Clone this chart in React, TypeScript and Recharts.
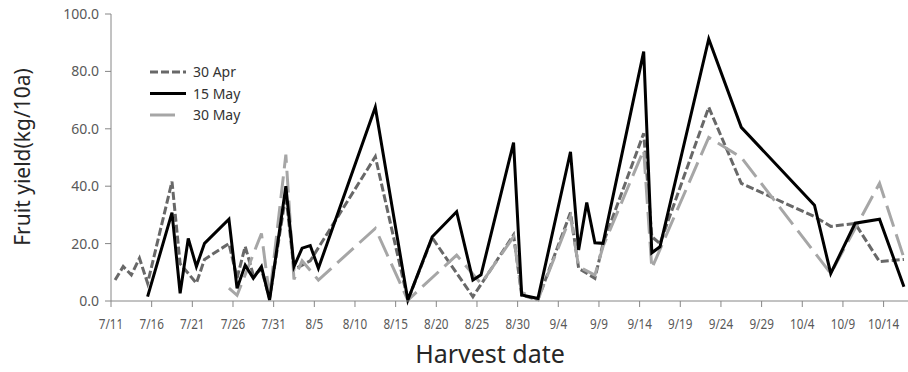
import { LineChart, Line, XAxis, YAxis, Label } from "recharts";

// harvest dates (month/day) and fruit yield (kg/10a) per planting date
const apr30Dates = [
  "7/11", "7/12", "7/13", "7/14", "7/15", "7/18", "7/19", "7/21", "7/22", "7/25",
  "7/26", "7/27", "7/28", "7/29", "7/30", "8/1", "8/2", "8/4", "8/12", "8/16",
  "8/19", "8/24", "8/29", "8/30", "9/1", "9/5", "9/6", "9/8", "9/9", "9/14",
  "9/15", "9/16", "9/22", "9/26", "10/5", "10/7", "10/10", "10/13", "10/16",
];
const apr30Yield = [
  7.3, 12.0, 9.1, 14.9, 6.2, 41.6, 13.0, 6.2, 14.5, 20.0,
  8.0, 19.0, 9.0, 11.0, 1.0, 37.0, 11.0, 14.0, 50.3, 0.3,
  22.0, 1.5, 23.0, 2.0, 0.5, 30.8, 11.4, 7.9, 20.0, 58.4,
  22.4, 20.0, 67.5, 41.0, 29.4, 26.0, 27.0, 13.7, 14.5,
];

const may15Dates = [
  "7/15", "7/18", "7/19", "7/20", "7/21", "7/22", "7/25", "7/26", "7/27", "7/28",
  "7/29", "7/30", "8/1", "8/2", "8/3", "8/4", "8/5", "8/12", "8/16", "8/19",
  "8/22", "8/24", "8/25", "8/29", "8/30", "9/1", "9/5", "9/6", "9/7", "9/8",
  "9/9", "9/14", "9/15", "9/16", "9/22", "9/26", "10/5", "10/7", "10/10", "10/13",
  "10/16",
];
const may15Yield = [
  1.5, 30.8, 2.7, 21.8, 12.0, 20.1, 28.5, 4.4, 12.5, 7.9,
  12.0, 0.3, 40.0, 12.0, 18.4, 19.3, 11.4, 67.5, 0.3, 22.4,
  31.1, 7.3, 9.1, 55.2, 2.1, 0.9, 52.0, 17.8, 34.3, 20.3,
  20.1, 86.9, 16.8, 18.9, 91.3, 60.5, 33.4, 9.6, 27.1, 28.5,
  5.0,
];

const may30Dates = [
  "7/25", "7/26", "7/29", "7/30", "8/1", "8/2", "8/3", "8/5", "8/12", "8/16",
  "8/22", "8/25", "8/29", "8/30", "9/1", "9/5", "9/6", "9/8", "9/9", "9/14",
  "9/15", "9/22", "9/26", "10/7", "10/13", "10/16",
];
const may30Yield = [
  4.5, 2.0, 23.5, 1.5, 51.0, 7.5, 14.0, 7.3, 25.3, 0.3,
  16.0, 6.0, 22.4, 3.0, 0.5, 29.4, 12.0, 9.0, 19.0, 52.6,
  11.4, 57.0, 50.0, 9.6, 41.0, 15.0,
];

const xTickLabels = [
  "7/11", "7/16", "7/21", "7/26", "7/31", "8/5", "8/10", "8/15", "8/20", "8/25",
  "8/30", "9/4", "9/9", "9/14", "9/19", "9/24", "9/29", "10/4", "10/9", "10/14",
];
const yTicks = [0, 20, 40, 60, 80, 100];

const seriesNames = ["30 Apr", "15 May", "30 May"];

const FONT = "'Noto Sans', 'DejaVu Sans', sans-serif";

function dayIndex(md: string) {
  const [m, d] = md.split("/").map(Number);
  return (Date.UTC(2000, m - 1, d) - Date.UTC(2000, 6, 11)) / 86400000;
}

// Excel date axis: each day sits midway between tick marks
const toPoints = (dates: string[], vals: number[]) =>
  dates.map((d, i) => ({ x: dayIndex(d) + 0.5, y: vals[i] }));

const apr30 = toPoints(apr30Dates, apr30Yield);
const may15 = toPoints(may15Dates, may15Yield);
const may30 = toPoints(may30Dates, may30Yield);

const xTicks = xTickLabels.map(dayIndex);
const labelFor = new Map(xTicks.map((t, i) => [t, xTickLabels[i]]));

const styles = [
  { stroke: "#686868", dash: "8 3" },
  { stroke: "#000000", dash: undefined },
  { stroke: "#a6a6a6", dash: "22 8" },
];

function XTick(props: any) {
  const { x, y, payload } = props;
  return (
    <g transform={`translate(${x},${y})`}>
      <text
        x={0}
        y={0}
        dy={14}
        textAnchor="middle"
        fill="#595959"
        fontSize={15}
        fontFamily={FONT}
        transform="scale(0.78,1)"
      >
        {labelFor.get(payload.value)}
      </text>
    </g>
  );
}

function LegendBox() {
  const legendDash = ["8 3", undefined, "25 20"];
  return (
    <svg width={120} height={70}>
      {seriesNames.map((name, i) => (
        <g key={name} transform={`translate(0, ${10 + i * 21.5})`}>
          <line
            x1={2}
            x2={38}
            y1={0}
            y2={0}
            stroke={styles[i].stroke}
            strokeWidth={3}
            strokeDasharray={legendDash[i]}
          />
          <text x={45} y={5} fontSize={14} fontFamily={FONT} fill="#333">
            {name}
          </text>
        </g>
      ))}
    </svg>
  );
}

export default function App() {
  return (
    <div style={{ position: "absolute", left: 0, top: 0, width: 908, height: 372, background: "#fff" }}>
      <LineChart width={908} height={372} margin={{ top: 14, right: 0, bottom: 0, left: 0 }}>
        <XAxis
          type="number"
          dataKey="x"
          domain={[0, 98]}
          ticks={xTicks}
          interval={0}
          allowDataOverflow
          stroke="#868686"
          tickSize={6}
          tickMargin={8}
          height={71}
          tick={<XTick />}
        >
          <Label
            content={() => (
              <text
                x={490}
                y={363}
                textAnchor="middle"
                fontSize={25}
                fontFamily={FONT}
                fill="#262626"
              >
                Harvest date
              </text>
            )}
          />
        </XAxis>
        <YAxis
          type="number"
          domain={[0, 100]}
          ticks={yTicks}
          interval={0}
          width={111}
          stroke="#868686"
          tickSize={6}
          tickMargin={6}
          tick={{ fill: "#595959", fontSize: 14, fontFamily: FONT }}
          tickFormatter={(v: number) => v.toFixed(1)}
        >
          <Label
            content={() => (
              <text
                x={30}
                y={157}
                textAnchor="middle"
                fontSize={21}
                fontFamily={FONT}
                fill="#262626"
                transform="rotate(-90, 30, 157)"
              >
                Fruit yield(kg/10a)
              </text>
            )}
          />
        </YAxis>
        <Line
          data={apr30}
          dataKey="y"
          name={seriesNames[0]}
          stroke={styles[0].stroke}
          strokeWidth={3}
          strokeDasharray={styles[0].dash}
          dot={false}
          activeDot={false}
          isAnimationActive={false}
        />
        <Line
          data={may30}
          dataKey="y"
          name={seriesNames[2]}
          stroke={styles[2].stroke}
          strokeWidth={3}
          strokeDasharray={styles[2].dash}
          dot={false}
          activeDot={false}
          isAnimationActive={false}
        />
        <Line
          data={may15}
          dataKey="y"
          name={seriesNames[1]}
          stroke={styles[1].stroke}
          strokeWidth={3}
          dot={false}
          activeDot={false}
          isAnimationActive={false}
        />
      </LineChart>
      <div style={{ position: "absolute", left: 148, top: 62 }}>
        <LegendBox />
      </div>
    </div>
  );
}
